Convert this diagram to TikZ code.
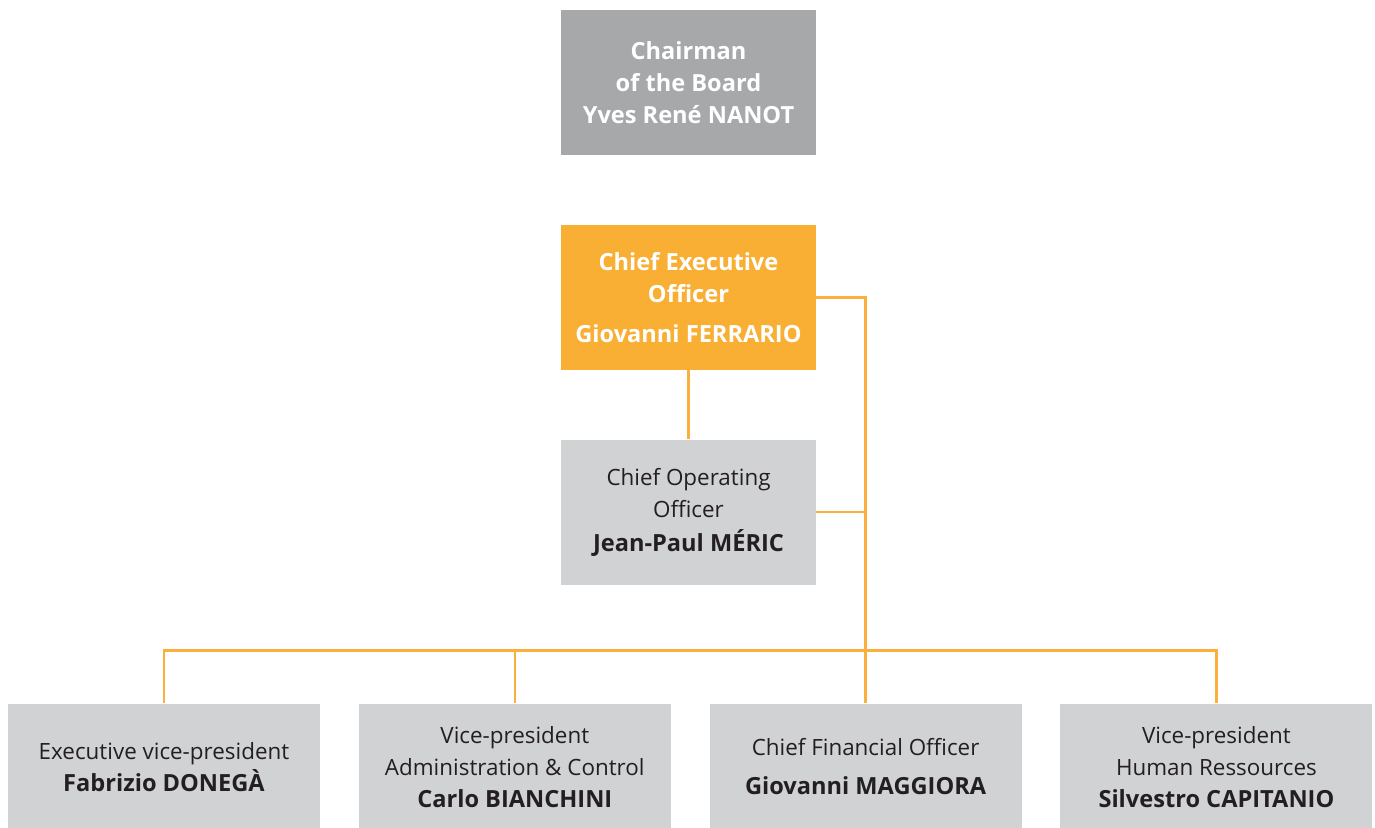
\documentclass[tikz,border=0pt]{standalone}
\usepackage{fontspec}
\setmainfont{Open Sans}
\usepackage{xcolor}
\usetikzlibrary{positioning}

\definecolor{boardgray}{HTML}{A7A8AA}
\definecolor{ceoorange}{HTML}{F9AF33}
\definecolor{linkorange}{HTML}{FBB03B}
\definecolor{staffgray}{HTML}{D1D2D4}
\definecolor{textdark}{HTML}{231F20}
\newcommand{\who}[1]{{\fontsize{11.8}{16}\selectfont\bfseries #1}}

\begin{document}
\begin{tikzpicture}[x=0.5pt, y=-0.5pt, node distance=34.5pt and 19pt,
            box/.style={rectangle, inner sep=0pt, align=center, font=\fontsize{11.2}{16}\selectfont},
            topbox/.style={box, minimum width=127.5pt, minimum height=72.5pt},
            staffbox/.style={box, fill=staffgray, text=textdark, minimum width=156pt, minimum height=63.5pt},
            link/.style={draw=linkorange, line width=1.25pt}]
    \useasboundingbox (0,0) rectangle (1375,827);
    % Nodes
    \node[topbox, fill=boardgray, text=white, font=\fontsize{11.8}{16}\selectfont\bfseries] (chairman) at (688.5,82.5)
        {Chairman\\of the Board\\Yves René NANOT};
    \node[topbox, fill=ceoorange, text=white, font=\fontsize{11.8}{16}\selectfont\bfseries, below=of chairman] (ceo)
        {Chief Executive\\Officer\\[4pt]Giovanni FERRARIO};
    \node[topbox, fill=staffgray, text=textdark, below=of ceo] (coo)
        {Chief Operating\\Officer\\[1pt]\who{Jean-Paul MÉRIC}};

    \node[staffbox] (evp) at (164,767) {Executive vice-president\\\who{Fabrizio DONEGÀ}};
    \node[staffbox, right=of evp] (admin) {Vice-president\\Administration \& Control\\\who{Carlo BIANCHINI}};
    \node[staffbox, right=of admin] (cfo) {Chief Financial Officer\\[3.5pt]\who{Giovanni MAGGIORA}};
    \node[staffbox, right=of cfo] (hr) {Vice-president\\Human Ressources\\\who{Silvestro CAPITANIO}};
    \coordinate[above=26.25pt of cfo.north] (bus);

    % Edges
    \draw[link] (ceo) -- (coo);
    \draw[link] (ceo.east) -| (cfo.north);
    \draw[link] (coo.east) -- (coo.east -| bus);
    \draw[link] (evp.north) |- (bus) -| (hr.north);
    \draw[link] (admin.north) -- (admin.north |- bus);
\end{tikzpicture}
\end{document}
